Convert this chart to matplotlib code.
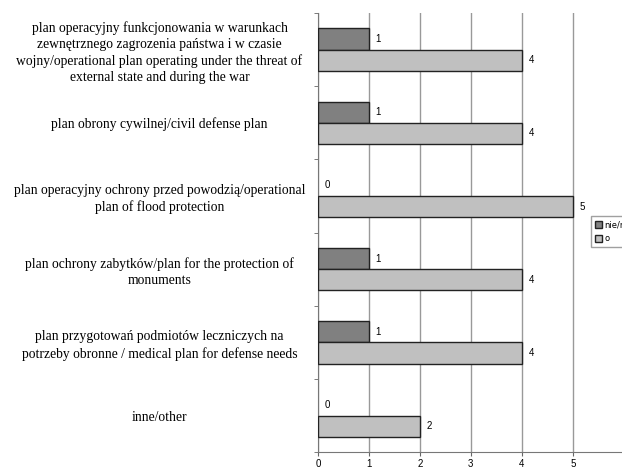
import numpy as np
from matplotlib import pyplot as plt

# Categories (top to bottom)
categories = [
    'plan operacyjny funkcjonowania w warunkach\nzewnętrznego zagrozenia państwa i w czasie\nwojny/operational plan operating under the threat of\nexternal state and during the war',
    'plan obrony cywilnej/civil defense plan',
    'plan operacyjny ochrony przed powodzią/operational\nplan of flood protection',
    'plan ochrony zabytków/plan for the protection of\nmonuments',
    'plan przygotowań podmiotów leczniczych na\npotrzeby obronne / medical plan for defense needs',
    'inne/other',
]

# Values
nie_values = [1, 1, 0, 1, 1, 0]
tak_values = [4, 4, 5, 4, 4, 2]
series_labels = ['nie/no', 'o']

fig = plt.figure(figsize=(6.22, 4.68), dpi=100)
ax = fig.add_axes([0.511, 0.034, 0.492, 0.938])

y = np.arange(len(categories))
h = 0.29

bars_nie = ax.barh(y - h / 2, nie_values, height=h, color='#808080',
                   edgecolor='#222222', linewidth=1, label=series_labels[0], zorder=3)
bars_tak = ax.barh(y + h / 2, tak_values, height=h, color='#c0c0c0',
                   edgecolor='#222222', linewidth=1, label=series_labels[1], zorder=3)

# no outline for empty bars
for b, v in zip(bars_nie, nie_values):
    if v == 0:
        b.set_linewidth(0)

ax.bar_label(bars_nie, padding=5, fontsize=7, family='Liberation Sans')
ax.bar_label(bars_tak, padding=5, fontsize=7, family='Liberation Sans')

ax.set_xlim(0, 6)
ax.set_ylim(len(categories) - 0.5, -0.5)

# x axis
ax.set_xticks(range(7))
ax.tick_params(axis='x', labelsize=7, length=3, color='#666666', pad=2)
for t in ax.get_xticklabels():
    t.set_family('Liberation Sans')
ax.grid(axis='x', color='#999999', linewidth=1, zorder=0)

# y axis: labels at centres, ticks at boundaries
ax.set_yticks(y)
ax.set_yticklabels(categories, ha='center', multialignment='center',
                   fontsize=9.8, family='Liberation Serif', linespacing=1.32)
ax.tick_params(axis='y', which='major', length=0, pad=114)
ax.set_yticks(np.arange(len(categories) + 1) - 0.5, minor=True)
ax.tick_params(axis='y', which='minor', length=3, color='#666666')

for side in ['top', 'right']:
    ax.spines[side].set_visible(False)
for side in ['left', 'bottom']:
    ax.spines[side].set_color('#777777')

leg = ax.legend(loc='upper left', bbox_to_anchor=(0.879, 0.547), fontsize=6,
                frameon=True, fancybox=False, edgecolor='#888888',
                handlelength=0.8, handleheight=0.8, handletextpad=0.3,
                borderpad=0.5, labelspacing=0.6)
leg.get_frame().set_linewidth(1)

plt.savefig('out.png', dpi=100)
